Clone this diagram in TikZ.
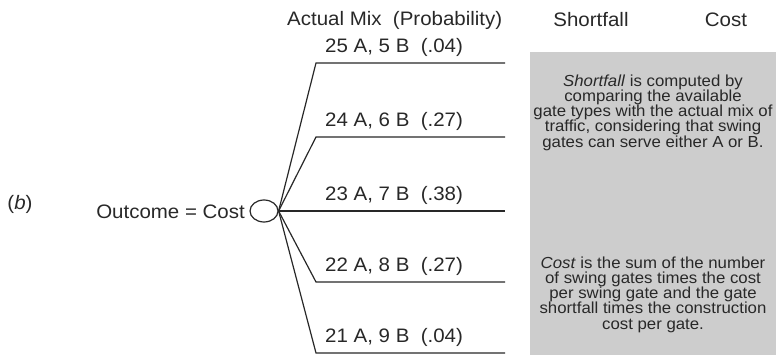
\documentclass[tikz,border=0pt]{standalone}
\usepackage{fontspec}
\setmainfont{Liberation Sans}[FakeStretch=1.05]
\usetikzlibrary{shapes.geometric}
\definecolor{boxgray}{RGB}{205,205,205}
\definecolor{ink}{RGB}{40,40,40}
\begin{document}
\begin{tikzpicture}[x=1pt,y=-1pt,
  lbl/.style={font=\fontsize{19.5}{21}\selectfont, text=ink, inner sep=0pt},
  boxtxt/.style={font=\fontsize{16}{15.3}\selectfont, align=center, text=ink, inner sep=0pt},
  branch/.style={line width=1.2pt, draw=ink},
  chance/.style={draw=ink, ellipse, line width=1.2pt, minimum width=28pt, minimum height=22pt, inner sep=0pt}]
\useasboundingbox (0,0) rectangle (776,355);
% shaded note box
\node[fill=boxgray, minimum width=246pt, minimum height=303pt, anchor=north west, inner sep=0pt] (box) at (530,52) {};
% headers
\node[lbl, anchor=west] (hmix) at (287,20) {Actual Mix\ \ (Probability)};
\node[lbl] (hshort) at (591,20) {Shortfall};
\node[lbl] (hcost) at (726,20) {Cost};
% chance node
\node[chance] (c) at (264,211) {};
\node[lbl, anchor=east] (out) at (245,212) {Outcome = Cost};
\node[lbl] (b) at (20,204) {(\textit{b})};
% branch points
\coordinate (s1) at (316,63);  \coordinate (e1) at (505,63);
\coordinate (s2) at (316,137); \coordinate (e2) at (505,137);
\coordinate (e3) at (505,211);
\coordinate (s4) at (316,282); \coordinate (e4) at (505,282);
\coordinate (s5) at (316,353); \coordinate (e5) at (505,353);
\draw[branch] (c.east) -- (s1) -- (e1);
\draw[branch] (c.east) -- (s2) -- (e2);
\draw[branch] (c.east) -- (e3);
\draw[branch] (c.east) -- (s4) -- (e4);
\draw[branch] (c.east) -- (s5) -- (e5);
% branch labels
\node[lbl, anchor=west] (l1) at (325,47)  {25 A, 5 B\ \ (.04)};
\node[lbl, anchor=west] (l2) at (325,121) {24 A, 6 B\ \ (.27)};
\node[lbl, anchor=west] (l3) at (325,195) {23 A, 7 B\ \ (.38)};
\node[lbl, anchor=west] (l4) at (325,266) {22 A, 8 B\ \ (.27)};
\node[lbl, anchor=west] (l5) at (325,337) {21 A, 9 B\ \ (.04)};
% box texts
\node[boxtxt] (t1) at (653,112.5) {\textit{Shortfall} is computed by\\comparing the available\\gate types with the actual mix of\\traffic, considering that swing\\gates can serve either A or B.};
\node[boxtxt] (t2) at (653,294.5) {\textit{Cost} is the sum of the number\\of swing gates times the cost\\per swing gate and the gate\\shortfall times the construction\\cost per gate.};
\end{tikzpicture}
\end{document}
